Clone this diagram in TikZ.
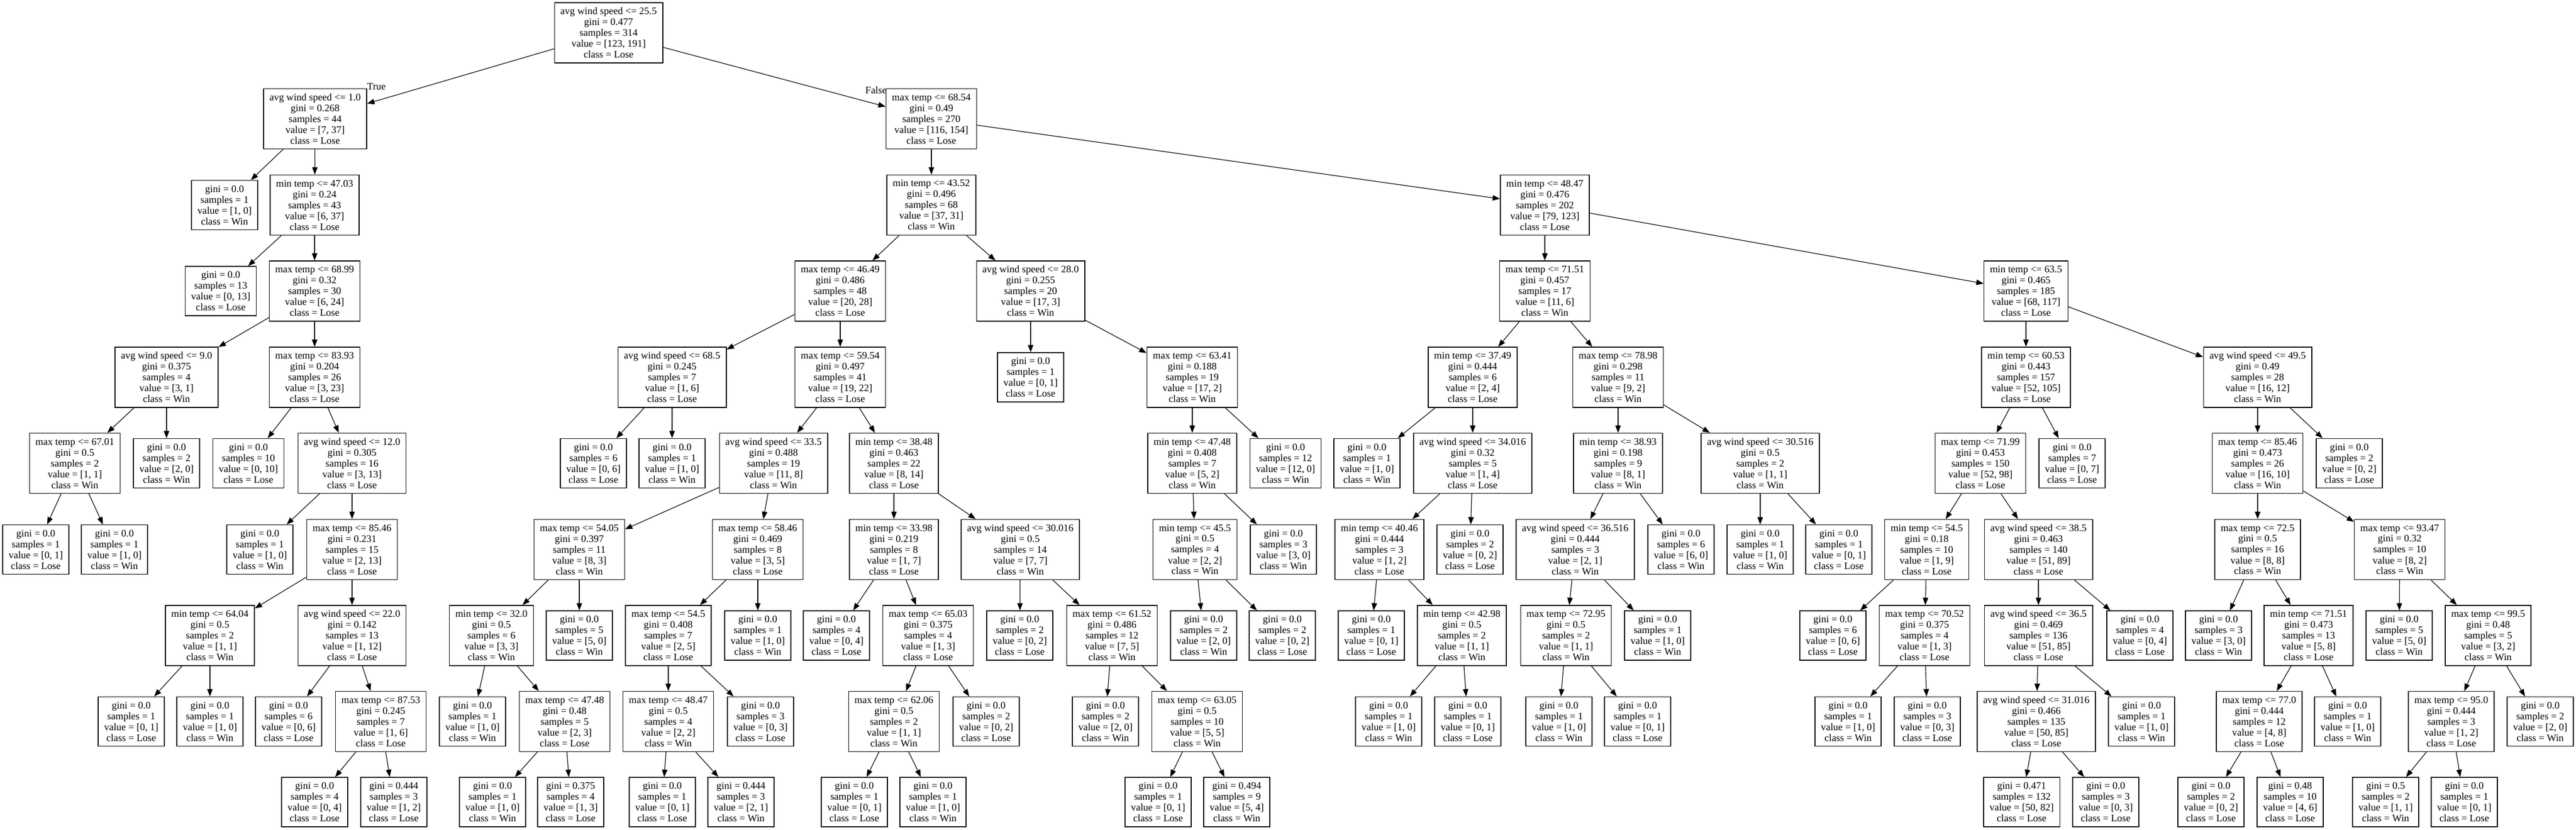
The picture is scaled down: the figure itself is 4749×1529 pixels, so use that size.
\documentclass[tikz,border=0pt]{standalone}
\usepackage{fontspec}
\setmainfont{Liberation Serif}
\usetikzlibrary{arrows.meta}

\newcommand{\splitinfo}[5]{#1\\gini = #2\\samples = #3\\value = [#4]\\class = #5}
\newcommand{\leafinfo}[4]{gini = #1\\samples = #2\\value = [#3]\\class = #4}

\tikzset{
  splitbox/.style={draw, line width=1.4pt, align=center, inner xsep=11pt, inner ysep=3pt,
    minimum height=111pt, font={\fontsize{18.5}{20}\selectfont}},
  leafbox/.style={splitbox, minimum height=91pt},
  branchline/.style={line width=1.2pt, -{Triangle[length=13.5pt,width=10pt]}},
  branchlabel/.style={inner sep=0pt, font={\fontsize{18.5}{20}\selectfont}}
}

\begin{document}
\begin{tikzpicture}[x=1pt,y=-1pt]
  \useasboundingbox (0,0) rectangle (4749,1529);

  % rank 0
  \node[splitbox] (ws255) at (1122,60.5) {\splitinfo{avg wind speed <= 25.5}{0.477}{314}{123, 191}{Lose}};

  % rank 1
  \node[splitbox] (ws10) at (581,219) {\splitinfo{avg wind speed <= 1.0}{0.268}{44}{7, 37}{Lose}};
  \node[splitbox] (mx6854) at (1717,219) {\splitinfo{max temp <= 68.54}{0.49}{270}{116, 154}{Lose}};

  % rank 2
  \node[leafbox] (ws10l) at (414,378) {\leafinfo{0.0}{1}{1, 0}{Win}};
  \node[splitbox] (mn4703) at (580,378) {\splitinfo{min temp <= 47.03}{0.24}{43}{6, 37}{Lose}};
  \node[splitbox] (mn4352) at (1717,378) {\splitinfo{min temp <= 43.52}{0.496}{68}{37, 31}{Win}};
  \node[splitbox] (mn4847) at (2848,378) {\splitinfo{min temp <= 48.47}{0.476}{202}{79, 123}{Lose}};

  % rank 3
  \node[leafbox] (mn4703l) at (407,536.5) {\leafinfo{0.0}{13}{0, 13}{Lose}};
  \node[splitbox] (mx6899) at (580,536.5) {\splitinfo{max temp <= 68.99}{0.32}{30}{6, 24}{Lose}};
  \node[splitbox] (mx4649) at (1549,536.5) {\splitinfo{max temp <= 46.49}{0.486}{48}{20, 28}{Lose}};
  \node[splitbox] (ws280) at (1900,536.5) {\splitinfo{avg wind speed <= 28.0}{0.255}{20}{17, 3}{Win}};
  \node[splitbox] (mx7151) at (2848,536.5) {\splitinfo{max temp <= 71.51}{0.457}{17}{11, 6}{Win}};
  \node[splitbox] (mn635) at (3735,536.5) {\splitinfo{min temp <= 63.5}{0.465}{185}{68, 117}{Lose}};

  % rank 4
  \node[splitbox] (ws90) at (307,695.5) {\splitinfo{avg wind speed <= 9.0}{0.375}{4}{3, 1}{Win}};
  \node[splitbox] (mx8393) at (580,695.5) {\splitinfo{max temp <= 83.93}{0.204}{26}{3, 23}{Lose}};
  \node[splitbox] (ws685) at (1239,695.5) {\splitinfo{avg wind speed <= 68.5}{0.245}{7}{1, 6}{Lose}};
  \node[splitbox] (mx5954) at (1549,695.5) {\splitinfo{max temp <= 59.54}{0.497}{41}{19, 22}{Lose}};
  \node[leafbox] (ws280l) at (1900,695.5) {\leafinfo{0.0}{1}{0, 1}{Lose}};
  \node[splitbox] (mx6341) at (2198,695.5) {\splitinfo{max temp <= 63.41}{0.188}{19}{17, 2}{Win}};
  \node[splitbox] (mn3749) at (2715,695.5) {\splitinfo{min temp <= 37.49}{0.444}{6}{2, 4}{Lose}};
  \node[splitbox] (mx7898) at (2983,695.5) {\splitinfo{max temp <= 78.98}{0.298}{11}{9, 2}{Win}};
  \node[splitbox] (mn6053) at (3735,695.5) {\splitinfo{min temp <= 60.53}{0.443}{157}{52, 105}{Lose}};
  \node[splitbox] (ws495) at (4162,695.5) {\splitinfo{avg wind speed <= 49.5}{0.49}{28}{16, 12}{Win}};

  % rank 5
  \node[splitbox] (mx6701) at (138,854) {\splitinfo{max temp <= 67.01}{0.5}{2}{1, 1}{Win}};
  \node[leafbox] (ws90r) at (307,854) {\leafinfo{0.0}{2}{2, 0}{Win}};
  \node[leafbox] (mx8393l) at (458,854) {\leafinfo{0.0}{10}{0, 10}{Lose}};
  \node[splitbox] (ws120) at (649,854) {\splitinfo{avg wind speed <= 12.0}{0.305}{16}{3, 13}{Lose}};
  \node[leafbox] (ws685l) at (1094,854) {\leafinfo{0.0}{6}{0, 6}{Lose}};
  \node[leafbox] (ws685r) at (1239,854) {\leafinfo{0.0}{1}{1, 0}{Win}};
  \node[splitbox] (ws335) at (1426,854) {\splitinfo{avg wind speed <= 33.5}{0.488}{19}{11, 8}{Win}};
  \node[splitbox] (mn3848) at (1648,854) {\splitinfo{min temp <= 38.48}{0.463}{22}{8, 14}{Lose}};
  \node[splitbox] (mn4748) at (2198,854) {\splitinfo{min temp <= 47.48}{0.408}{7}{5, 2}{Win}};
  \node[leafbox] (mx6341r) at (2370,854) {\leafinfo{0.0}{12}{12, 0}{Win}};
  \node[leafbox] (mn3749l) at (2520,854) {\leafinfo{0.0}{1}{1, 0}{Win}};
  \node[splitbox] (ws34016) at (2715,854) {\splitinfo{avg wind speed <= 34.016}{0.32}{5}{1, 4}{Lose}};
  \node[splitbox] (mn3893) at (2983,854) {\splitinfo{min temp <= 38.93}{0.198}{9}{8, 1}{Win}};
  \node[splitbox] (ws30516) at (3245,854) {\splitinfo{avg wind speed <= 30.516}{0.5}{2}{1, 1}{Win}};
  \node[splitbox] (mx7199) at (3651,854) {\splitinfo{max temp <= 71.99}{0.453}{150}{52, 98}{Lose}};
  \node[leafbox] (mn6053r) at (3820,854) {\leafinfo{0.0}{7}{0, 7}{Lose}};
  \node[splitbox] (mx8546b) at (4162,854) {\splitinfo{max temp <= 85.46}{0.473}{26}{16, 10}{Win}};
  \node[leafbox] (ws495r) at (4331,854) {\leafinfo{0.0}{2}{0, 2}{Lose}};

  % rank 6
  \node[leafbox] (mx6701l) at (66,1013) {\leafinfo{0.0}{1}{0, 1}{Lose}};
  \node[leafbox] (mx6701r) at (211,1013) {\leafinfo{0.0}{1}{1, 0}{Win}};
  \node[leafbox] (ws120l) at (479,1013) {\leafinfo{0.0}{1}{1, 0}{Win}};
  \node[splitbox] (mx8546a) at (649,1013) {\splitinfo{max temp <= 85.46}{0.231}{15}{2, 13}{Lose}};
  \node[splitbox] (mx5405) at (1068,1013) {\splitinfo{max temp <= 54.05}{0.397}{11}{8, 3}{Win}};
  \node[splitbox] (mx5846) at (1397,1013) {\splitinfo{max temp <= 58.46}{0.469}{8}{3, 5}{Lose}};
  \node[splitbox] (mn3398) at (1648,1013) {\splitinfo{min temp <= 33.98}{0.219}{8}{1, 7}{Lose}};
  \node[splitbox] (ws30016) at (1881,1013) {\splitinfo{avg wind speed <= 30.016}{0.5}{14}{7, 7}{Win}};
  \node[splitbox] (mn455) at (2203,1013) {\splitinfo{min temp <= 45.5}{0.5}{4}{2, 2}{Win}};
  \node[leafbox] (mn4748r) at (2366,1013) {\leafinfo{0.0}{3}{3, 0}{Win}};
  \node[splitbox] (mn4046) at (2543,1013) {\splitinfo{min temp <= 40.46}{0.444}{3}{1, 2}{Lose}};
  \node[leafbox] (ws34016r) at (2710,1013) {\leafinfo{0.0}{2}{0, 2}{Lose}};
  \node[splitbox] (ws36516) at (2904,1013) {\splitinfo{avg wind speed <= 36.516}{0.444}{3}{2, 1}{Win}};
  \node[leafbox] (mn3893r) at (3099,1013) {\leafinfo{0.0}{6}{6, 0}{Win}};
  \node[leafbox] (ws30516l) at (3245,1013) {\leafinfo{0.0}{1}{1, 0}{Win}};
  \node[leafbox] (ws30516r) at (3390,1013) {\leafinfo{0.0}{1}{0, 1}{Lose}};
  \node[splitbox] (mn545) at (3552,1013) {\splitinfo{min temp <= 54.5}{0.18}{10}{1, 9}{Lose}};
  \node[splitbox] (ws385) at (3758,1013) {\splitinfo{avg wind speed <= 38.5}{0.463}{140}{51, 89}{Lose}};
  \node[splitbox] (mx725) at (4162,1013) {\splitinfo{max temp <= 72.5}{0.5}{16}{8, 8}{Win}};
  \node[splitbox] (mx9347) at (4424,1013) {\splitinfo{max temp <= 93.47}{0.32}{10}{8, 2}{Win}};

  % rank 7
  \node[splitbox] (mn6404) at (387,1171.5) {\splitinfo{min temp <= 64.04}{0.5}{2}{1, 1}{Win}};
  \node[splitbox] (ws220) at (649,1171.5) {\splitinfo{avg wind speed <= 22.0}{0.142}{13}{1, 12}{Lose}};
  \node[splitbox] (mn320) at (906,1171.5) {\splitinfo{min temp <= 32.0}{0.5}{6}{3, 3}{Win}};
  \node[leafbox] (mx5405r) at (1068,1171.5) {\leafinfo{0.0}{5}{5, 0}{Win}};
  \node[splitbox] (mx545) at (1232,1171.5) {\splitinfo{max temp <= 54.5}{0.408}{7}{2, 5}{Lose}};
  \node[leafbox] (mx5846r) at (1397,1171.5) {\leafinfo{0.0}{1}{1, 0}{Win}};
  \node[leafbox] (mn3398l) at (1542,1171.5) {\leafinfo{0.0}{4}{0, 4}{Lose}};
  \node[splitbox] (mx6503) at (1711,1171.5) {\splitinfo{max temp <= 65.03}{0.375}{4}{1, 3}{Lose}};
  \node[leafbox] (ws30016l) at (1880,1171.5) {\leafinfo{0.0}{2}{0, 2}{Lose}};
  \node[splitbox] (mx6152) at (2050,1171.5) {\splitinfo{max temp <= 61.52}{0.486}{12}{7, 5}{Win}};
  \node[leafbox] (mn455l) at (2219,1171.5) {\leafinfo{0.0}{2}{2, 0}{Win}};
  \node[leafbox] (mn455r) at (2364,1171.5) {\leafinfo{0.0}{2}{0, 2}{Lose}};
  \node[leafbox] (mn4046l) at (2528,1171.5) {\leafinfo{0.0}{1}{0, 1}{Lose}};
  \node[splitbox] (mn4298) at (2695,1171.5) {\splitinfo{min temp <= 42.98}{0.5}{2}{1, 1}{Win}};
  \node[splitbox] (mx7295) at (2887,1171.5) {\splitinfo{max temp <= 72.95}{0.5}{2}{1, 1}{Win}};
  \node[leafbox] (ws36516r) at (3056,1171.5) {\leafinfo{0.0}{1}{1, 0}{Win}};
  \node[leafbox] (mn545l) at (3379,1171.5) {\leafinfo{0.0}{6}{0, 6}{Lose}};
  \node[splitbox] (mx7052) at (3548,1171.5) {\splitinfo{max temp <= 70.52}{0.375}{4}{1, 3}{Lose}};
  \node[splitbox] (ws365) at (3758,1171.5) {\splitinfo{avg wind speed <= 36.5}{0.469}{136}{51, 85}{Lose}};
  \node[leafbox] (ws385r) at (3945,1171.5) {\leafinfo{0.0}{4}{0, 4}{Lose}};
  \node[leafbox] (mx725l) at (4090,1171.5) {\leafinfo{0.0}{3}{3, 0}{Win}};
  \node[splitbox] (mn7151) at (4256,1171.5) {\splitinfo{min temp <= 71.51}{0.473}{13}{5, 8}{Lose}};
  \node[leafbox] (mx9347l) at (4423,1171.5) {\leafinfo{0.0}{5}{5, 0}{Win}};
  \node[splitbox] (mx995) at (4587,1171.5) {\splitinfo{max temp <= 99.5}{0.48}{5}{3, 2}{Win}};

  % rank 8
  \node[leafbox] (mn6404l) at (242,1330) {\leafinfo{0.0}{1}{0, 1}{Lose}};
  \node[leafbox] (mn6404r) at (387,1330) {\leafinfo{0.0}{1}{1, 0}{Win}};
  \node[leafbox] (ws220l) at (532,1330) {\leafinfo{0.0}{6}{0, 6}{Lose}};
  \node[splitbox] (mx8753) at (702,1330) {\splitinfo{max temp <= 87.53}{0.245}{7}{1, 6}{Lose}};
  \node[leafbox] (mn320l) at (871,1330) {\leafinfo{0.0}{1}{1, 0}{Win}};
  \node[splitbox] (mx4748) at (1041,1330) {\splitinfo{max temp <= 47.48}{0.48}{5}{2, 3}{Lose}};
  \node[splitbox] (mx4847) at (1232,1330) {\splitinfo{max temp <= 48.47}{0.5}{4}{2, 2}{Win}};
  \node[leafbox] (mx545r) at (1402,1330) {\leafinfo{0.0}{3}{0, 3}{Lose}};
  \node[splitbox] (mx6206) at (1648,1330) {\splitinfo{max temp <= 62.06}{0.5}{2}{1, 1}{Win}};
  \node[leafbox] (mx6503r) at (1818,1330) {\leafinfo{0.0}{2}{0, 2}{Lose}};
  \node[leafbox] (mx6152l) at (2038,1330) {\leafinfo{0.0}{2}{2, 0}{Win}};
  \node[splitbox] (mx6305) at (2207,1330) {\splitinfo{max temp <= 63.05}{0.5}{10}{5, 5}{Win}};
  \node[leafbox] (mn4298l) at (2560,1330) {\leafinfo{0.0}{1}{1, 0}{Win}};
  \node[leafbox] (mn4298r) at (2706,1330) {\leafinfo{0.0}{1}{0, 1}{Lose}};
  \node[leafbox] (mx7295l) at (2874,1330) {\leafinfo{0.0}{1}{1, 0}{Win}};
  \node[leafbox] (mx7295r) at (3019,1330) {\leafinfo{0.0}{1}{0, 1}{Lose}};
  \node[leafbox] (mx7052l) at (3407,1330) {\leafinfo{0.0}{1}{1, 0}{Win}};
  \node[leafbox] (mx7052r) at (3553,1330) {\leafinfo{0.0}{3}{0, 3}{Lose}};
  \node[splitbox] (ws31016) at (3754,1330) {\splitinfo{avg wind speed <= 31.016}{0.466}{135}{50, 85}{Lose}};
  \node[leafbox] (ws365r) at (3948,1330) {\leafinfo{0.0}{1}{1, 0}{Win}};
  \node[splitbox] (mx770) at (4165,1330) {\splitinfo{max temp <= 77.0}{0.444}{12}{4, 8}{Lose}};
  \node[leafbox] (mn7151r) at (4328,1330) {\leafinfo{0.0}{1}{1, 0}{Win}};
  \node[splitbox] (mx950) at (4519,1330) {\splitinfo{max temp <= 95.0}{0.444}{3}{1, 2}{Lose}};
  \node[leafbox] (mx995r) at (4683,1330) {\leafinfo{0.0}{2}{2, 0}{Win}};

  % rank 9
  \node[leafbox] (mx8753l) at (580,1478.5) {\leafinfo{0.0}{4}{0, 4}{Lose}};
  \node[leafbox] (mx8753r) at (726,1478.5) {\leafinfo{0.444}{3}{1, 2}{Lose}};
  \node[leafbox] (mx4748l) at (908,1478.5) {\leafinfo{0.0}{1}{1, 0}{Win}};
  \node[leafbox] (mx4748r) at (1052,1478.5) {\leafinfo{0.375}{4}{1, 3}{Lose}};
  \node[leafbox] (mx4847l) at (1221,1478.5) {\leafinfo{0.0}{1}{0, 1}{Lose}};
  \node[leafbox] (mx4847r) at (1366,1478.5) {\leafinfo{0.444}{3}{2, 1}{Win}};
  \node[leafbox] (mx6206l) at (1575,1478.5) {\leafinfo{0.0}{1}{0, 1}{Lose}};
  \node[leafbox] (mx6206r) at (1720,1478.5) {\leafinfo{0.0}{1}{1, 0}{Win}};
  \node[leafbox] (mx6305l) at (2135,1478.5) {\leafinfo{0.0}{1}{0, 1}{Lose}};
  \node[leafbox] (mx6305r) at (2280,1478.5) {\leafinfo{0.494}{9}{5, 4}{Win}};
  \node[leafbox] (ws31016l) at (3727,1478.5) {\leafinfo{0.471}{132}{50, 82}{Lose}};
  \node[leafbox] (ws31016r) at (3882,1478.5) {\leafinfo{0.0}{3}{0, 3}{Lose}};
  \node[leafbox] (mx770l) at (4076,1478.5) {\leafinfo{0.0}{2}{0, 2}{Lose}};
  \node[leafbox] (mx770r) at (4222,1478.5) {\leafinfo{0.48}{10}{4, 6}{Lose}};
  \node[leafbox] (mx950l) at (4398,1478.5) {\leafinfo{0.5}{2}{1, 1}{Win}};
  \node[leafbox] (mx950r) at (4543,1478.5) {\leafinfo{0.0}{1}{0, 1}{Lose}};

  % branch labels at the root
  \node[branchlabel] (truelab) at (694,160) {True};
  \node[branchlabel] (falselab) at (1615,166) {False};

  % branches
  \draw[branchline] (ws255) -- (ws10);     \draw[branchline] (ws255) -- (mx6854);
  \draw[branchline] (ws10) -- (ws10l);     \draw[branchline] (ws10) -- (mn4703);
  \draw[branchline] (mn4703) -- (mn4703l); \draw[branchline] (mn4703) -- (mx6899);
  \draw[branchline] (mx6899) -- (ws90);    \draw[branchline] (mx6899) -- (mx8393);
  \draw[branchline] (ws90) -- (mx6701);    \draw[branchline] (ws90) -- (ws90r);
  \draw[branchline] (mx6701) -- (mx6701l); \draw[branchline] (mx6701) -- (mx6701r);
  \draw[branchline] (mx8393) -- (mx8393l); \draw[branchline] (mx8393) -- (ws120);
  \draw[branchline] (ws120) -- (ws120l);   \draw[branchline] (ws120) -- (mx8546a);
  \draw[branchline] (mx8546a) -- (mn6404); \draw[branchline] (mx8546a) -- (ws220);
  \draw[branchline] (mn6404) -- (mn6404l); \draw[branchline] (mn6404) -- (mn6404r);
  \draw[branchline] (ws220) -- (ws220l);   \draw[branchline] (ws220) -- (mx8753);
  \draw[branchline] (mx8753) -- (mx8753l); \draw[branchline] (mx8753) -- (mx8753r);
  \draw[branchline] (mx6854) -- (mn4352);  \draw[branchline] (mx6854) -- (mn4847);
  \draw[branchline] (mn4352) -- (mx4649);  \draw[branchline] (mn4352) -- (ws280);
  \draw[branchline] (mx4649) -- (ws685);   \draw[branchline] (mx4649) -- (mx5954);
  \draw[branchline] (ws685) -- (ws685l);   \draw[branchline] (ws685) -- (ws685r);
  \draw[branchline] (mx5954) -- (ws335);   \draw[branchline] (mx5954) -- (mn3848);
  \draw[branchline] (ws335) -- (mx5405);   \draw[branchline] (ws335) -- (mx5846);
  \draw[branchline] (mx5405) -- (mn320);   \draw[branchline] (mx5405) -- (mx5405r);
  \draw[branchline] (mn320) -- (mn320l);   \draw[branchline] (mn320) -- (mx4748);
  \draw[branchline] (mx4748) -- (mx4748l); \draw[branchline] (mx4748) -- (mx4748r);
  \draw[branchline] (mx5846) -- (mx545);   \draw[branchline] (mx5846) -- (mx5846r);
  \draw[branchline] (mx545) -- (mx4847);   \draw[branchline] (mx545) -- (mx545r);
  \draw[branchline] (mx4847) -- (mx4847l); \draw[branchline] (mx4847) -- (mx4847r);
  \draw[branchline] (mn3848) -- (mn3398);  \draw[branchline] (mn3848) -- (ws30016);
  \draw[branchline] (mn3398) -- (mn3398l); \draw[branchline] (mn3398) -- (mx6503);
  \draw[branchline] (mx6503) -- (mx6206);  \draw[branchline] (mx6503) -- (mx6503r);
  \draw[branchline] (mx6206) -- (mx6206l); \draw[branchline] (mx6206) -- (mx6206r);
  \draw[branchline] (ws30016) -- (ws30016l); \draw[branchline] (ws30016) -- (mx6152);
  \draw[branchline] (mx6152) -- (mx6152l); \draw[branchline] (mx6152) -- (mx6305);
  \draw[branchline] (mx6305) -- (mx6305l); \draw[branchline] (mx6305) -- (mx6305r);
  \draw[branchline] (ws280) -- (ws280l);   \draw[branchline] (ws280) -- (mx6341);
  \draw[branchline] (mx6341) -- (mn4748);  \draw[branchline] (mx6341) -- (mx6341r);
  \draw[branchline] (mn4748) -- (mn455);   \draw[branchline] (mn4748) -- (mn4748r);
  \draw[branchline] (mn455) -- (mn455l);   \draw[branchline] (mn455) -- (mn455r);
  \draw[branchline] (mn4847) -- (mx7151);  \draw[branchline] (mn4847) -- (mn635);
  \draw[branchline] (mx7151) -- (mn3749);  \draw[branchline] (mx7151) -- (mx7898);
  \draw[branchline] (mn3749) -- (mn3749l); \draw[branchline] (mn3749) -- (ws34016);
  \draw[branchline] (ws34016) -- (mn4046); \draw[branchline] (ws34016) -- (ws34016r);
  \draw[branchline] (mn4046) -- (mn4046l); \draw[branchline] (mn4046) -- (mn4298);
  \draw[branchline] (mn4298) -- (mn4298l); \draw[branchline] (mn4298) -- (mn4298r);
  \draw[branchline] (mx7898) -- (mn3893);  \draw[branchline] (mx7898) -- (ws30516);
  \draw[branchline] (mn3893) -- (ws36516); \draw[branchline] (mn3893) -- (mn3893r);
  \draw[branchline] (ws36516) -- (mx7295); \draw[branchline] (ws36516) -- (ws36516r);
  \draw[branchline] (mx7295) -- (mx7295l); \draw[branchline] (mx7295) -- (mx7295r);
  \draw[branchline] (ws30516) -- (ws30516l); \draw[branchline] (ws30516) -- (ws30516r);
  \draw[branchline] (mn635) -- (mn6053);   \draw[branchline] (mn635) -- (ws495);
  \draw[branchline] (mn6053) -- (mx7199);  \draw[branchline] (mn6053) -- (mn6053r);
  \draw[branchline] (mx7199) -- (mn545);   \draw[branchline] (mx7199) -- (ws385);
  \draw[branchline] (mn545) -- (mn545l);   \draw[branchline] (mn545) -- (mx7052);
  \draw[branchline] (mx7052) -- (mx7052l); \draw[branchline] (mx7052) -- (mx7052r);
  \draw[branchline] (ws385) -- (ws365);    \draw[branchline] (ws385) -- (ws385r);
  \draw[branchline] (ws365) -- (ws31016);  \draw[branchline] (ws365) -- (ws365r);
  \draw[branchline] (ws31016) -- (ws31016l); \draw[branchline] (ws31016) -- (ws31016r);
  \draw[branchline] (ws495) -- (mx8546b);  \draw[branchline] (ws495) -- (ws495r);
  \draw[branchline] (mx8546b) -- (mx725);  \draw[branchline] (mx8546b) -- (mx9347);
  \draw[branchline] (mx725) -- (mx725l);   \draw[branchline] (mx725) -- (mn7151);
  \draw[branchline] (mn7151) -- (mx770);   \draw[branchline] (mn7151) -- (mn7151r);
  \draw[branchline] (mx770) -- (mx770l);   \draw[branchline] (mx770) -- (mx770r);
  \draw[branchline] (mx9347) -- (mx9347l); \draw[branchline] (mx9347) -- (mx995);
  \draw[branchline] (mx995) -- (mx950);    \draw[branchline] (mx995) -- (mx995r);
  \draw[branchline] (mx950) -- (mx950l);   \draw[branchline] (mx950) -- (mx950r);
\end{tikzpicture}
\end{document}
